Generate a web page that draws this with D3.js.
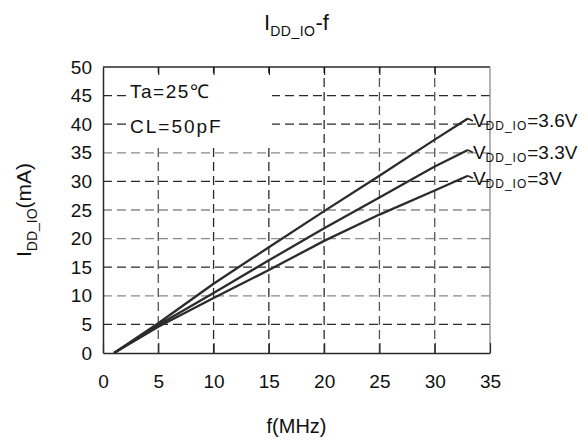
<!DOCTYPE html>
<html>
<head>
<meta charset="utf-8">
<script src="https://cdn.jsdelivr.net/npm/d3@7"></script>
<style>
  body { margin: 0; background: #fff; }
  svg { display: block; font-family: "Liberation Sans", Arial, sans-serif; }
</style>
</head>
<body>
<svg id="chart" width="588" height="441"></svg>
<script>
// I_DD_IO versus frequency, three supply voltages
const freq   = [1, 5, 10, 15, 20, 25, 30, 33];               // MHz
const idd36  = [0, 5.2, 12.1, 18.5, 24.8, 31.0, 37.3, 41.0]; // mA @ 3.6 V
const idd33  = [0, 4.9, 10.5, 16.2, 21.8, 27.2, 32.6, 35.5]; // mA @ 3.3 V
const idd30  = [0, 4.6, 9.6, 14.5, 19.6, 24.2, 28.4, 31.0];  // mA @ 3 V
const seriesVolts = ["3.6V", "3.3V", "3V"];
const xTicks = [0, 5, 10, 15, 20, 25, 30, 35];
const yTicks = [0, 5, 10, 15, 20, 25, 30, 35, 40, 45, 50];

const svg = d3.select("#chart");
const L = 103, R = 490, T = 67, B = 353;
const x = d3.scaleLinear().domain([0, 35]).range([L, R]);
const y = d3.scaleLinear().domain([0, 50]).range([B, T]);

const dark = "#2a2a2a", grey = "#8a8a8a";
const lightRows = new Set([10, 20, 25, 35]);

// dashed grid
const grid = svg.append("g");
yTicks.filter(v => v > 0 && v < 50).forEach(v => {
  grid.append("line")
    .attr("x1", L).attr("x2", R).attr("y1", y(v)).attr("y2", y(v))
    .attr("stroke", lightRows.has(v) ? grey : dark)
    .attr("stroke-width", 1.3).attr("stroke-dasharray", "9,5");
});
xTicks.filter(v => v > 0 && v < 35).forEach(v => {
  grid.append("line")
    .attr("x1", x(v)).attr("x2", x(v)).attr("y1", B).attr("y2", T)
    .attr("stroke", v === 5 || v >= 25 ? "#555" : dark)
    .attr("stroke-width", 1.3).attr("stroke-dasharray", "9,5");
});

// white panel behind the test conditions
svg.append("rect").attr("x", 127).attr("y", 76).attr("width", 145).attr("height", 67).attr("fill", "#fff");

// frame
svg.append("line").attr("x1", L).attr("x2", R).attr("y1", T).attr("y2", T).attr("stroke", dark).attr("stroke-width", 1.3);
svg.append("line").attr("x1", R).attr("x2", R).attr("y1", T).attr("y2", B).attr("stroke", grey).attr("stroke-width", 1.3);

// axes with inward ticks
const xAxis = d3.axisBottom(x).tickValues(xTicks).tickSizeInner(-10).tickSizeOuter(0).tickPadding(22);
const gx = svg.append("g").attr("transform", `translate(0,${B})`).call(xAxis);
const xTop = d3.axisTop(x).tickValues(xTicks.slice(1, -1)).tickSizeInner(-8).tickSizeOuter(0).tickFormat("");
svg.append("g").attr("transform", `translate(0,${T})`).call(xTop).select(".domain").remove();

const yAxis = d3.axisLeft(y).tickValues(yTicks).tickSize(0).tickPadding(11);
const gy = svg.append("g").attr("transform", `translate(${L},0)`).call(yAxis);

[gx, gy].forEach(g => {
  g.select(".domain").attr("stroke", dark).attr("stroke-width", 1.5);
  g.selectAll(".tick line").attr("stroke", dark).attr("stroke-width", 1.2);
  g.selectAll(".tick text").attr("fill", "#111").style("font-size", "19px")
    .style("font-family", '"Liberation Sans", Arial, sans-serif');
});

// curves
const line = d3.line().x(d => x(d[0])).y(d => y(d[1]));
const series = [idd36, idd33, idd30];
series.forEach(vals => {
  svg.append("path")
    .datum(freq.map((f, i) => [f, vals[i]]))
    .attr("d", line)
    .attr("fill", "none").attr("stroke", "#2b2b2b").attr("stroke-width", 2.3)
    .attr("stroke-linejoin", "round");
});

// series labels at the end of each curve
series.forEach((vals, i) => {
  const ex = x(freq[freq.length - 1]), ey = y(vals[vals.length - 1]);
  svg.append("line").attr("x1", ex).attr("y1", ey).attr("x2", ex + 5).attr("y2", ey + 2.5)
    .attr("stroke", "#2b2b2b").attr("stroke-width", 1.6);
  const t = svg.append("text").attr("x", ex + 5).attr("y", ey + 9).attr("fill", "#111").style("font-size", "19px");
  t.append("tspan").text("V");
  t.append("tspan").attr("dy", 3).style("font-size", "12px").style("letter-spacing", "1px").text("DD_IO");
  t.append("tspan").attr("dy", -3).text("=" + seriesVolts[i]);
});

// test conditions
svg.append("text").attr("x", 130).attr("y", 98).attr("fill", "#111")
  .style("font-size", "19px").style("letter-spacing", "1.5px").text("Ta=25℃");
svg.append("text").attr("x", 130).attr("y", 133).attr("fill", "#111")
  .style("font-size", "19px").style("letter-spacing", "2px").text("CL=50pF");

// title, centred over the plot
const title = svg.append("text").attr("x", (L + R) / 2).attr("y", 30).attr("text-anchor", "middle")
  .attr("fill", "#111").style("font-size", "22px");
title.append("tspan").text("I");
title.append("tspan").attr("dy", 6).style("font-size", "14px").style("letter-spacing", "0.5px").text("DD_IO");
title.append("tspan").attr("dy", -6).text("-f");

// axis titles
svg.append("text").attr("x", (L + R) / 2).attr("y", 433).attr("text-anchor", "middle")
  .attr("fill", "#111").style("font-size", "20px").text("f(MHz)");

const yl = svg.append("text").attr("transform", `translate(31,${(T + B) / 2}) rotate(-90)`)
  .attr("text-anchor", "middle").attr("fill", "#111").style("font-size", "21px");
yl.append("tspan").text("I");
yl.append("tspan").attr("dy", 6).style("font-size", "14px").text("DD_IO");
yl.append("tspan").attr("dy", -6).text("(mA)");
</script>
</body>
</html>
